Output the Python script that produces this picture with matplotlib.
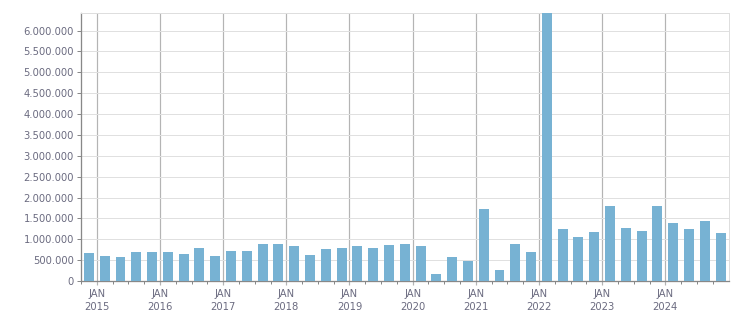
import numpy as np
from matplotlib import pyplot as plt
import matplotlib.ticker as mtick

# quarterly values, Q4 2014 .. Q4 2024
values = [664000, 592000, 568000, 688000, 688000, 688000, 640000, 784000,
          592000, 712000, 712000, 880000, 880000, 832000, 616000, 760000,
          784000, 832000, 784000, 856000, 880000, 832000, 160000, 568000,
          472000, 1720000, 256000, 880000, 688000, 6450000, 1240000, 1048000,
          1168000, 1792000, 1264000, 1192000, 1792000, 1384000, 1240000,
          1432000, 1144000]
years = list(range(2015, 2025))

px = 1 / 1.389  # one pixel in points at dpi 100
txt_col = "#6b6b80"

fig = plt.figure(figsize=(7.51, 3.13), dpi=100)
ax = fig.add_axes([81 / 751, 1 - 281 / 313, (728.5 - 81) / 751, (281 - 13) / 313])

# x in quarters, 0 = Jan 2015; bars sit half a quarter left of their tick
x = np.arange(len(values)) - 0.5
ax.bar(x, values, width=0.63, color="#77b2d3", zorder=3)

ax.set_xlim(-1, 40)
ax.set_ylim(0, 6420000)

ax.set_yticks(np.arange(0, 6000001, 500000))
ax.yaxis.set_major_formatter(mtick.FuncFormatter(lambda v, p: "{:,.0f}".format(v).replace(",", ".")))
ax.set_xticks(np.arange(0, 40, 4))
ax.set_xticklabels(["JAN\n" + str(y) for y in years])
ax.set_xticks(np.arange(-1, 40, 1), minor=True)

ax.grid(axis="y", color="#e0e0e0", linewidth=1 * px, zorder=0)
ax.grid(axis="x", which="major", color="#b4b4b4", linewidth=1.2 * px, zorder=1)

for s in ["top", "right"]:
    ax.spines[s].set_color("#dedede")
    ax.spines[s].set_linewidth(1 * px)
for s in ["left", "bottom"]:
    ax.spines[s].set_color("#888888")
    ax.spines[s].set_linewidth(1.3 * px)

ax.tick_params(axis="y", length=4 * px, width=1 * px, color="#888888", pad=3 * px,
               labelsize=7.2, labelcolor=txt_col)
ax.tick_params(axis="x", which="major", length=4 * px, width=1.2 * px, color="#b4b4b4",
               pad=4 * px, labelsize=7.2, labelcolor=txt_col)
ax.tick_params(axis="x", which="minor", length=3 * px, width=1 * px, color="#888888")
for lab in ax.get_xticklabels():
    lab.set_linespacing(1.35)

plt.savefig("out.png", dpi=100)
